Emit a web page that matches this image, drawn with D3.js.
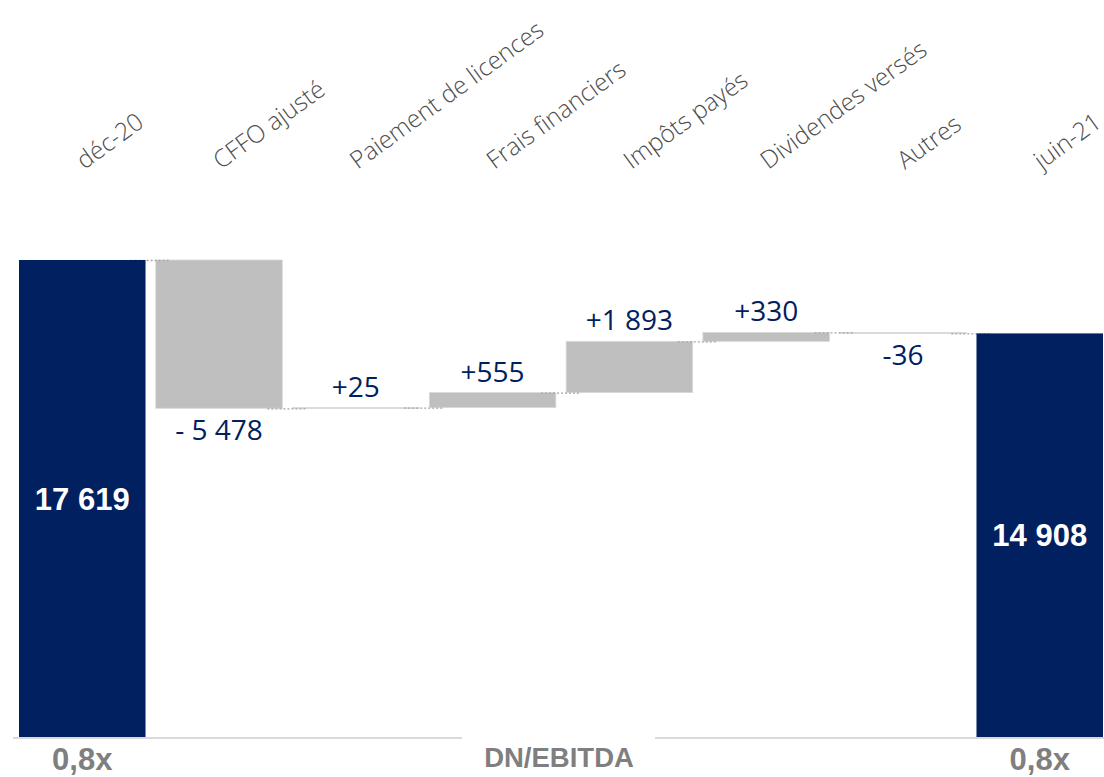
<!DOCTYPE html>
<html>
<head>
<meta charset="utf-8">
<script src="https://cdn.jsdelivr.net/npm/d3@7"></script>
<style>
  body { margin: 0; background: #fff; }
  svg { display: block; }
</style>
</head>
<body>
<svg id="chart"></svg>
<script>
// waterfall DN : déc-20 -> juin-21
const categories = ["déc-20", "CFFO ajusté", "Paiement de licences", "Frais financiers",
                    "Impôts payés", "Dividendes versés", "Autres", "juin-21"];
const values = [17619, -5478, 25, 555, 1893, 330, -36, 14908];
const isTotal = [true, false, false, false, false, false, false, true];
const valueLabels = ["17 619", "- 5 478", "+25", "+555", "+1 893", "+330", "-36", "14 908"];
const ratioLabels = ["0,8x", "0,8x"];
const ratioTitle = "DN/EBITDA";

const width = 1104, height = 777;
const navy = "#002060", grey = "#bfbfbf";

const svg = d3.select("#chart")
    .attr("width", width)
    .attr("height", height);

// running totals -> start/end of each bar
let run = 0;
const data = categories.map(function(c, i) {
    let y0, y1;
    if (isTotal[i]) {
        y0 = 0; y1 = values[i]; run = values[i];
    } else {
        y0 = run; y1 = run + values[i]; run = y1;
    }
    return {name: c, value: values[i], total: isTotal[i], y0: y0, y1: y1, label: valueLabels[i]};
});

const x = d3.scaleBand()
    .domain(categories)
    .range([19, 1103])
    .paddingInner(0.075)
    .paddingOuter(0);

const y = d3.scaleLinear()
    .domain([0, d3.max(values)])
    .range([737, 260]);

const bw = x.bandwidth();

// grey delta bars
svg.selectAll(".delta")
    .data(data.filter(d => !d.total))
    .enter().append("rect")
    .attr("class", "delta")
    .attr("x", d => x(d.name))
    .attr("width", bw)
    .attr("y", d => y(Math.max(d.y0, d.y1)))
    .attr("height", d => Math.max(0.8, Math.abs(y(d.y0) - y(d.y1))))
    .attr("fill", grey)
    .attr("stroke", "#d9d9d9")
    .attr("stroke-width", 0.8);

// dotted connectors
const links = data.slice(0, -1).map(function(d, i) {
    return {level: d.y1, mid: x(d.name) + bw + (x.step() - bw) / 2};
});
svg.selectAll(".link")
    .data(links)
    .enter().append("line")
    .attr("class", "link")
    .attr("x1", d => d.mid - 20)
    .attr("x2", d => d.mid + 20)
    .attr("y1", d => y(d.level) + 0.5)
    .attr("y2", d => y(d.level) + 0.5)
    .attr("stroke", "#a6a6a6")
    .attr("stroke-width", 1.3)
    .attr("stroke-dasharray", "2,2");

// total bars (navy)
svg.selectAll(".total")
    .data(data.filter(d => d.total))
    .enter().append("rect")
    .attr("class", "total")
    .attr("x", d => x(d.name))
    .attr("width", bw)
    .attr("y", d => y(d.y1))
    .attr("height", d => y(0) - y(d.y1))
    .attr("fill", navy);

// labels inside total bars
svg.selectAll(".totalLabel")
    .data(data.filter(d => d.total))
    .enter().append("text")
    .attr("class", "totalLabel")
    .attr("x", d => x(d.name) + bw / 2)
    .attr("y", d => (y(d.y1) + y(0)) / 2 + 11)
    .attr("text-anchor", "middle")
    .style("font-family", "'Liberation Sans', Arial, sans-serif")
    .style("font-weight", "bold")
    .style("font-size", "31px")
    .style("fill", "#fff")
    .text(d => d.label);

// labels for the deltas
svg.selectAll(".deltaLabel")
    .data(data.filter(d => !d.total))
    .enter().append("text")
    .attr("class", "deltaLabel")
    .attr("x", d => x(d.name) + bw / 2)
    .attr("y", d => d.value >= 0 ? y(d.y1) - 11 : y(d.y1) + 32)
    .attr("text-anchor", "middle")
    .style("font-family", "'Open Sans', sans-serif")
    .style("font-size", "28px")
    .style("fill", navy)
    .text(d => d.label);

// category labels, rotated
svg.selectAll(".cat")
    .data(categories)
    .enter().append("text")
    .attr("class", "cat")
    .attr("transform", d => "translate(" + (x(d) + bw / 2 + 2) + ",170) rotate(-36)")
    .attr("text-anchor", "start")
    .style("font-family", "'Open Sans', sans-serif")
    .style("font-weight", 300)
    .style("font-size", "24.5px")
    .style("fill", "#4d4d4d")
    .text(d => d);

// bottom axis with gap for DN/EBITDA
svg.append("line")
    .attr("x1", 13).attr("x2", 462)
    .attr("y1", 738).attr("y2", 738)
    .attr("stroke", "#d9d9d9").attr("stroke-width", 2);
svg.append("line")
    .attr("x1", 655).attr("x2", width)
    .attr("y1", 738).attr("y2", 738)
    .attr("stroke", "#d9d9d9").attr("stroke-width", 2);

svg.append("text")
    .attr("x", 559)
    .attr("y", 767)
    .attr("text-anchor", "middle")
    .style("font-family", "'Liberation Sans', Arial, sans-serif")
    .style("font-weight", "bold")
    .style("font-size", "27.5px")
    .style("fill", "#7f7f7f")
    .text(ratioTitle);

svg.selectAll(".ratio")
    .data(ratioLabels)
    .enter().append("text")
    .attr("class", "ratio")
    .attr("x", (d, i) => x(categories[i === 0 ? 0 : categories.length - 1]) + bw / 2)
    .attr("y", 770)
    .attr("text-anchor", "middle")
    .style("font-family", "'Liberation Sans', Arial, sans-serif")
    .style("font-weight", "bold")
    .style("font-size", "31px")
    .style("fill", "#7f7f7f")
    .text(d => d);
</script>
</body>
</html>
